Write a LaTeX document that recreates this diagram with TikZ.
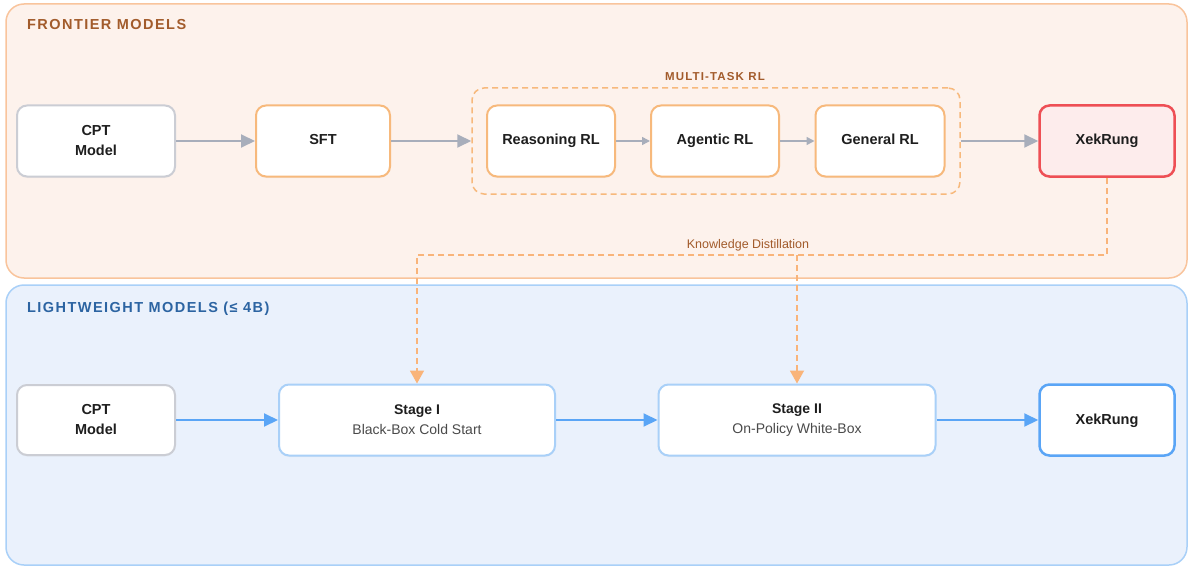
\documentclass[tikz,border=0pt]{standalone}
\usepackage{fontspec}
\setmainfont{Liberation Sans}
\newfontfamily\titlefont{Liberation Sans}[LetterSpace=10]
\usetikzlibrary{arrows.meta,shadows}
\definecolor{fFill}{HTML}{FDF2EC}
\definecolor{fLine}{HTML}{F9C49C}
\definecolor{fTitle}{HTML}{A25B2B}
\definecolor{oLine}{HTML}{F7B97C}
\definecolor{gLine}{HTML}{CBCDD4}
\definecolor{gArrow}{HTML}{A8AEBB}
\definecolor{rLine}{HTML}{EE4F55}
\definecolor{rFill}{HTML}{FDECEC}
\definecolor{bFill}{HTML}{EAF1FC}
\definecolor{bLine}{HTML}{A9D0F8}
\definecolor{bTitle}{HTML}{2C64A2}
\definecolor{bArrow}{HTML}{5AA5F6}
\definecolor{dashO}{HTML}{F9B47A}
\definecolor{txt}{HTML}{1E1E1E}
\definecolor{subtxt}{HTML}{4A4A4A}
\begin{document}
\begin{tikzpicture}[x=1pt,y=-1pt,
  panel/.style={rounded corners=18pt, line width=1.5pt, inner sep=0pt},
  box/.style={rounded corners=10pt, line width=2pt, fill=white, minimum height=71pt,
     text=txt, align=center, font=\fontsize{14.5}{20}\selectfont\bfseries,
     drop shadow={opacity=0.07, shadow xshift=0pt, shadow yshift=-1.5pt}},
  oneline/.style={text height=11pt, text depth=3pt},
  grayBox/.style={box, draw=gLine},
  orBox/.style={box, draw=oLine, oneline},
  blBox/.style={box, draw=bLine, font=\fontsize{14}{20}\selectfont},
  secTitle/.style={anchor=west, inner sep=0pt, font=\titlefont\fontsize{14.5}{16}\selectfont\bfseries},
  garrow/.style={draw=gArrow, line width=2pt, -{Triangle[length=14pt,width=13pt]}},
  gsmall/.style={draw=gArrow, line width=1.5pt, -{Triangle[length=8pt,width=8pt]}},
  barrow/.style={draw=bArrow, line width=2pt, -{Triangle[length=14pt,width=13pt]}},
  kdline/.style={draw=dashO, line width=1.8pt, dash pattern=on 6pt off 4pt},
  kdarrow/.style={kdline, -{Triangle[length=13pt,width=14pt]}}
]
\useasboundingbox (0,0) rectangle (1188,567);
\fill[white] (0,0) rectangle (1188,567);

% panels
\node[panel, draw=fLine, fill=fFill, minimum width=1181pt, minimum height=274pt] (pf) at (596.5,141) {};
\node[panel, draw=bLine, fill=bFill, minimum width=1181pt, minimum height=280pt] (pl) at (596.5,425) {};

\node[secTitle, text=fTitle] (tf) at (27,25) {FRONTIER MODELS};
\node[secTitle, text=bTitle] (tl) at (27,309) {LIGHTWEIGHT MODELS (≤ 4B)};

% multi-task group
\node[draw=oLine, line width=1.5pt, dash pattern=on 6pt off 4pt, rounded corners=12pt,
      minimum width=488pt, minimum height=106pt] (mt) at (716,141) {};
\node[inner sep=0pt, text=fTitle, font=\titlefont\fontsize{11.5}{12}\selectfont\bfseries] (mtl) at (715,77) {MULTI-TASK RL};

% top row
\node[grayBox, minimum width=158pt] (cpt1) at (96,141) {CPT\\Model};
\node[orBox, minimum width=134pt] (sft) at (323,141) {SFT};
\node[orBox, minimum width=128pt] (rrl) at (551,141) {Reasoning RL};
\node[orBox, minimum width=128pt] (arl) at (715,141) {Agentic RL};
\node[orBox, minimum width=129pt] (grl) at (880,141) {General RL};
\node[box, oneline, draw=rLine, fill=rFill, line width=2.5pt, minimum width=135pt] (xek1) at (1107,141) {XekRung};

\draw[garrow] (cpt1.east) -- (sft.west);
\draw[garrow] (sft.east) -- (mt.west);
\draw[gsmall] (rrl.east) -- (arl.west);
\draw[gsmall] (arl.east) -- (grl.west);
\draw[garrow] (mt.east) -- (xek1.west);

% bottom row
\node[grayBox, minimum width=158pt, minimum height=70pt] (cpt2) at (96,420) {CPT\\Model};
\node[blBox, minimum width=276pt] (s1) at (417,420) {\textbf{Stage I}\\{\color{subtxt}Black-Box Cold Start}};
\node[blBox, minimum width=277pt] (s2) at (797,420) {\textbf{Stage II}\\{\color{subtxt}On-Policy White-Box}};
\node[box, oneline, draw=bArrow, line width=2.5pt, minimum width=135pt] (xek2) at (1107,420) {XekRung};

\draw[barrow] (cpt2.east) -- (s1.west);
\draw[barrow] (s1.east) -- (s2.west);
\draw[barrow] (s2.east) -- (xek2.west);

% knowledge distillation
\coordinate (j1) at (417,255);
\coordinate (j2) at (797,255);
\draw[kdarrow] (xek1.south) |- (j1) -- (s1.north);
\draw[kdarrow] (j2) -- (s2.north);
\node[inner sep=0pt, text=fTitle, font=\fontsize{12.5}{14}\selectfont] (kd) at (748,245) {Knowledge Distillation};
\end{tikzpicture}
\end{document}
